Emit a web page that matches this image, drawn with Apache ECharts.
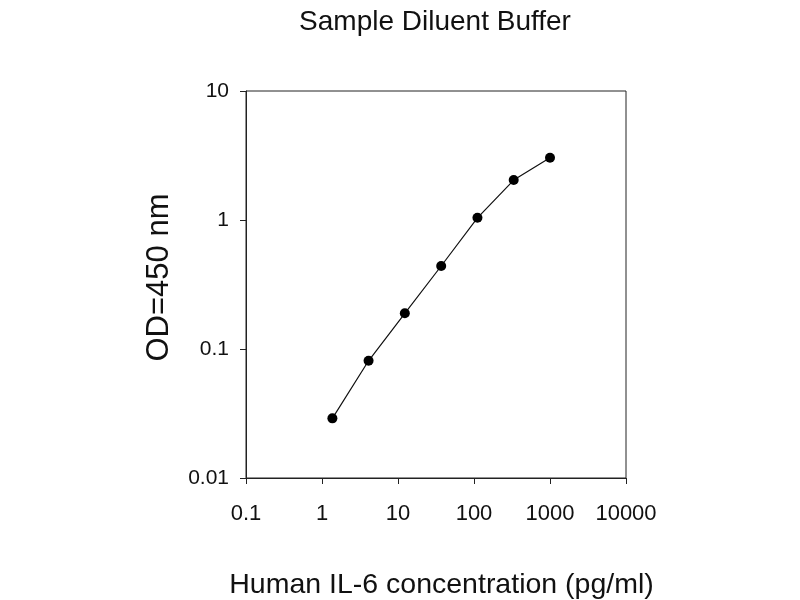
<!DOCTYPE html>
<html>
<head>
<meta charset="utf-8">
<script src="https://cdn.jsdelivr.net/npm/echarts@6/dist/echarts.min.js"></script>
<style>
html,body{margin:0;padding:0;background:#fff;}
#chart{width:800px;height:600px;}
</style>
</head>
<body>
<div id="chart"></div>
<script>
const titleText = 'Sample Diluent Buffer';
const xAxisName = 'Human IL-6 concentration (pg/ml)';
const yAxisName = 'OD=450 nm';
const concentrations = [1.37, 4.1, 12.3, 37, 111, 333, 1000];
const odValues = [0.029, 0.081, 0.189, 0.44, 1.04, 2.04, 3.04];
const xTickLabels = ['0.1', '1', '10', '100', '1000', '10000'];
const yTickLabels = ['0.01', '0.1', '1', '10'];

const fontFamily = '"Liberation Sans", Arial, Helvetica, sans-serif';
const chart = echarts.init(document.getElementById('chart'));

function fmt(labels) {
  return function (v) {
    const s = String(Number(Number(v).toPrecision(6)));
    return labels.indexOf(s) >= 0 ? s : '';
  };
}

chart.setOption({
  animation: false,
  backgroundColor: '#fff',
  title: {
    text: titleText,
    left: 430,
    top: 3,
    textAlign: 'center',
    textStyle: { fontFamily: fontFamily, fontSize: 28, fontWeight: 'normal', color: '#111' }
  },
  grid: {
    left: 246, right: 174, top: 91, bottom: 122,
    containLabel: false,
    outerBoundsMode: 'none',
    show: true, borderColor: '#222', borderWidth: 1, backgroundColor: 'transparent'
  },
  xAxis: {
    type: 'log', logBase: 10, min: 0.1, max: 10000,
    name: xAxisName, nameLocation: 'middle', nameGap: 93,
    nameTextStyle: { fontFamily: fontFamily, fontSize: 28.5, color: '#111', padding: [0, 0, 0, 11] },
    axisLine: { show: true, lineStyle: { color: '#222', width: 1 } },
    axisTick: { show: true, inside: false, length: 6, lineStyle: { color: '#222' } },
    minorTick: { show: false },
    splitLine: { show: false },
    axisLabel: { formatter: fmt(xTickLabels), fontFamily: fontFamily, fontSize: 22, color: '#111', margin: 25, showMaxLabel: true, showMinLabel: true }
  },
  yAxis: {
    type: 'log', logBase: 10, min: 0.01, max: 10,
    name: yAxisName, nameLocation: 'middle', nameGap: 71, nameRotate: 90,
    nameTextStyle: { fontFamily: fontFamily, fontSize: 31, color: '#111', padding: [0, 0, 0, 14] },
    axisLine: { show: true, lineStyle: { color: '#222', width: 1 } },
    axisTick: { show: true, inside: false, length: 6, lineStyle: { color: '#222' } },
    splitLine: { show: false },
    axisLabel: { formatter: fmt(yTickLabels), fontFamily: fontFamily, fontSize: 21, color: '#111', margin: 17 }
  },
  series: [{
    type: 'line',
    data: concentrations.map((c, i) => [c, odValues[i]]),
    symbol: 'circle',
    symbolSize: 10,
    showSymbol: true,
    itemStyle: { color: '#000' },
    lineStyle: { color: '#111', width: 1.2 }
  }]
});
</script>
</body>
</html>
